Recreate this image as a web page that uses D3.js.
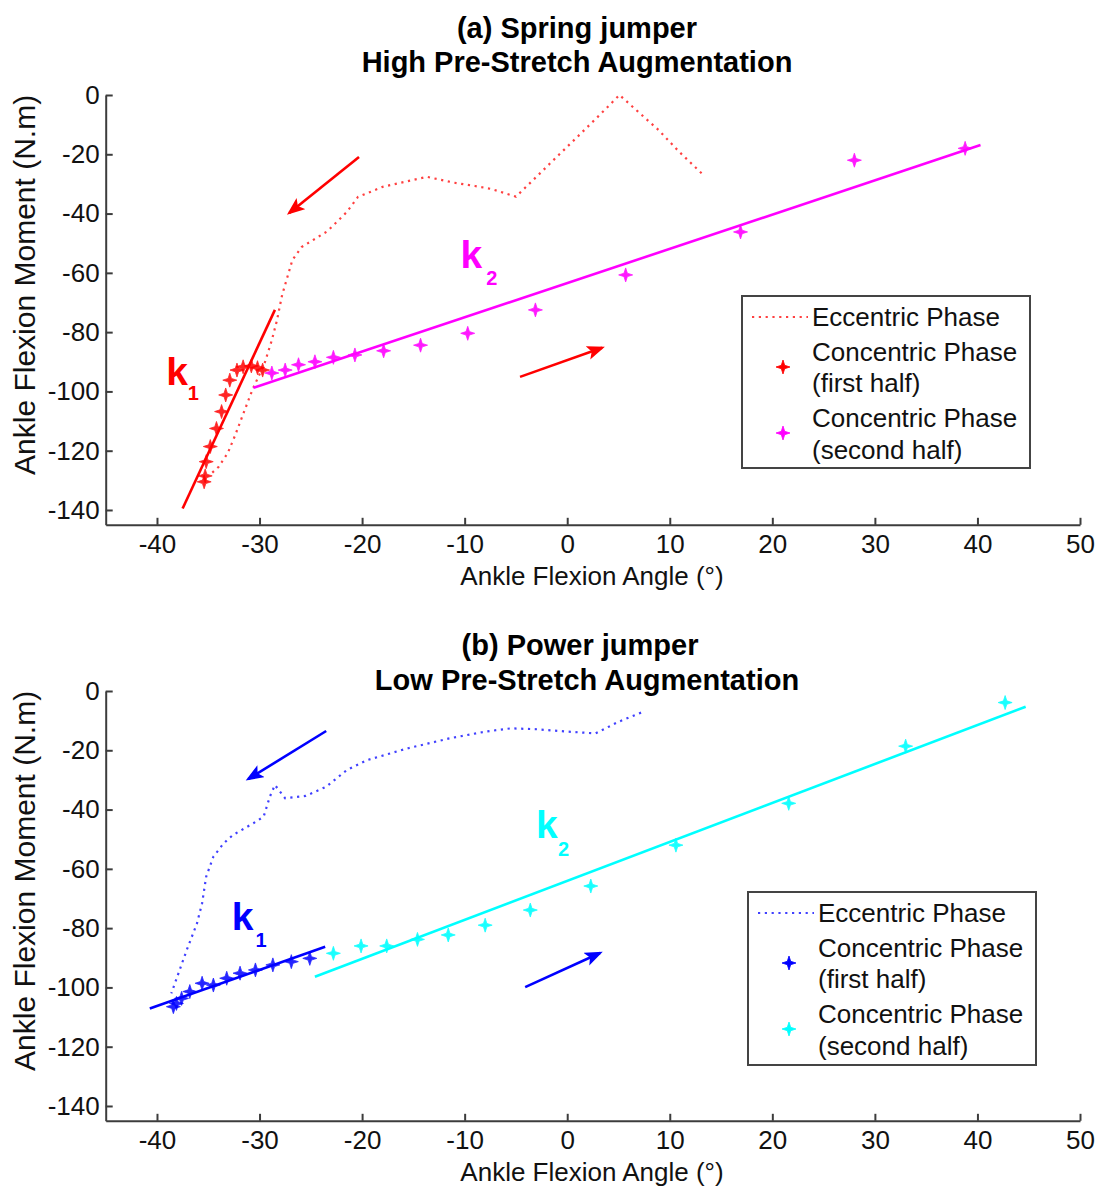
<!DOCTYPE html>
<html><head><meta charset="utf-8">
<script src="https://cdn.jsdelivr.net/npm/d3@7"></script>
<style>body{margin:0;background:#fff} svg{display:block}</style>
</head><body>
<svg id="c" width="1101" height="1188"></svg>
<script>
// ---------- data ----------
const xTicks = [-40,-30,-20,-10,0,10,20,30,40,50];
const yTicks = [0,-20,-40,-60,-80,-100,-120,-140];
const xDomain = [-45, 50];
const yDomain = [-145, 0];
const xLabel = "Ankle Flexion Angle (°)";
const yLabel = "Ankle Flexion Moment (N.m)";
const legendLabels = ["Eccentric Phase", "Concentric Phase", "(first half)", "Concentric Phase", "(second half)"];

// (a) Spring jumper
const aTitle = ["(a) Spring jumper", "High Pre-Stretch Augmentation"];
const aEccentric = [[13.1,-26.4],[10.9,-19.1],[8.9,-11.8],[6.9,-5.6],[5.1,0],[3.0,-7.3],[1.0,-14.1],[-1.0,-20.8],[-3.0,-27.6],[-5.0,-34.3],[-7.4,-31.7],[-9.0,-30.7],[-11.0,-29.6],[-13.7,-27.6],[-18.0,-31.0],[-20.4,-34.4],[-21.5,-39.5],[-23.4,-46.0],[-25.9,-51.3],[-26.8,-55.7],[-27.8,-67.5],[-28.3,-76.0],[-28.8,-82.7],[-29.5,-90.4],[-30.7,-99.5],[-31.7,-108.6],[-32.4,-115.0],[-33.1,-120.8],[-34.0,-125.5],[-34.8,-128.0]];
const aFirstHalf = [[-35.4,-130.5],[-35.3,-128.5],[-35.2,-123.7],[-34.8,-118.6],[-34.2,-112.5],[-33.7,-106.8],[-33.3,-101.2],[-32.9,-96.2],[-32.2,-92.8],[-31.6,-91.7],[-30.8,-91.4],[-30.2,-92.0],[-29.7,-92.8]];
const aSecondHalf = [[-28.8,-93.8],[-27.5,-92.8],[-26.2,-91.0],[-24.6,-90.0],[-22.8,-88.5],[-20.7,-87.7],[-17.9,-86.3],[-14.3,-84.4],[-9.7,-80.4],[-3.1,-72.5],[5.7,-60.7],[16.9,-46.2],[28.0,-22.0],[38.8,-18.0]];
const aFitK1 = [[-37.5,-139.5],[-28.5,-72.5]];
const aFitK2 = [[-30.6,-98.8],[40.3,-16.9]];
const aArrows = [[[-20.3,-20.9],[-27.1,-39.8]], [[-4.6,-95.1],[3.4,-85.3]]];
const aK1 = [-39.1,-97.8], aK1sub = [-37.0,-102.9];
const aK2 = [-10.4,-58.4], aK2sub = [-7.9,-64.1];

// (b) Power jumper
const bTitle = ["(b) Power jumper", "Low Pre-Stretch Augmentation"];
const bEccentric = [[7.2,-7.3],[5.0,-10.4],[2.75,-14.3],[0.0,-13.7],[-3.0,-12.9],[-5.5,-12.6],[-8.0,-13.7],[-11.5,-16.0],[-15.5,-19.3],[-19.5,-23.3],[-21.5,-26.7],[-23.5,-32.3],[-25.5,-35.4],[-27.5,-36.2],[-28.5,-31.7],[-29.0,-35.7],[-29.6,-42.4],[-30.6,-44.6],[-32.6,-48.6],[-33.5,-51.4],[-34.5,-55.9],[-35.2,-62.6],[-35.6,-71.6],[-36.1,-78.4],[-37.1,-87.4],[-37.9,-95.2],[-38.6,-102.0]];
const bFirstHalf = [[-38.4,-106.5],[-38.1,-105.4],[-37.6,-103.7],[-36.8,-101.4],[-35.6,-98.6],[-34.5,-99.2],[-33.2,-96.9],[-31.9,-95.2],[-30.4,-94.1],[-28.7,-92.4],[-26.9,-91.3],[-25.1,-90.2]];
const bSecondHalf = [[-22.8,-88.5],[-20.1,-86.0],[-17.6,-86.0],[-14.6,-83.8],[-11.6,-82.3],[-8.0,-79.0],[-3.6,-73.9],[2.3,-65.8],[10.6,-52.0],[21.6,-37.9],[33.0,-18.6],[42.7,-3.9]];
const bFitK1 = [[-40.7,-107.1],[-23.6,-86.3]];
const bFitK2 = [[-24.6,-96.4],[44.7,-5.3]];
const bArrows = [[[-23.5,-13.5],[-31.1,-29.7]], [[-4.1,-99.9],[3.2,-88.4]]];
const bK1 = [-32.7,-80.6], bK1sub = [-30.4,-86.4];
const bK2 = [-3.05,-49.6], bK2sub = [-0.9,-55.7];

// ---------- drawing ----------
const FONT = '"Liberation Sans", Arial, Helvetica, sans-serif';
const svg = d3.select('#c');
const defs = svg.append('defs');
function arrowDef(id, color) {
  defs.append('marker').attr('id', id).attr('markerUnits','userSpaceOnUse')
    .attr('markerWidth', 20).attr('markerHeight', 16).attr('refX', 15).attr('refY', 7)
    .attr('orient','auto')
    .append('path').attr('d','M0,0 L18,7 L0,14 L4,7 Z').attr('fill', color);
}
arrowDef('arRed', '#ff0000');
arrowDef('arBlue', '#0000ff');

const starPath = "M0,-7 L1.7,-1.7 L7,0 L1.7,1.7 L0,7 L-1.7,1.7 L-7,0 L-1.7,-1.7 Z";

function drawPanel(o) {
  const g = svg.append('g');
  const x = d3.scaleLinear().domain(xDomain).range([105.7, 1080]);
  const y = d3.scaleLinear().domain(yDomain).range([o.bottom, o.top]);

  // titles
  o.title.forEach((t, i) => {
    g.append('text').attr('x', o.titleX[i]).attr('y', o.titleY[i])
      .attr('text-anchor','middle').attr('font-family', FONT).attr('font-weight','bold')
      .attr('font-size', 29).attr('fill','#000').text(t);
  });

  // axes
  const xa = g.append('g').attr('transform', `translate(0,${o.bottom})`)
    .call(d3.axisBottom(x).tickValues(xTicks).tickFormat(d => String(d))
      .tickSizeInner(-7).tickSizeOuter(0).tickPadding(10));
  const ya = g.append('g').attr('transform', `translate(${x(xDomain[0])},0)`)
    .call(d3.axisLeft(y).tickValues(yTicks).tickFormat(d => String(d))
      .tickSizeInner(-7).tickSizeOuter(0).tickPadding(6));
  [xa, ya].forEach(a => {
    a.attr('font-family', FONT).attr('font-size', 26);
    a.selectAll('path, line').attr('stroke', '#3c3c3c').attr('stroke-width', 2);
    a.selectAll('text').attr('fill', '#111');
  });

  // axis labels
  g.append('text').attr('x', 592).attr('y', o.xLabelY).attr('text-anchor','middle')
    .attr('font-family', FONT).attr('font-size', 26).attr('fill','#111').text(xLabel);
  g.append('text').attr('transform', `translate(35,${(o.top + o.bottom) / 2 - 25}) rotate(-90)`)
    .attr('text-anchor','middle').attr('font-family', FONT).attr('font-size', 30)
    .attr('fill','#111').text(yLabel);

  const line = d3.line().x(d => x(d[0])).y(d => y(d[1]));

  // eccentric dotted
  g.append('path').datum(o.eccentric).attr('d', line).attr('fill','none')
    .attr('stroke', o.c1).attr('stroke-width', 2.2).attr('stroke-dasharray','2.2,4.6')
    .attr('stroke-opacity', 0.75);

  // fits
  g.append('path').datum(o.fitK1).attr('d', line).attr('fill','none')
    .attr('stroke', o.c1).attr('stroke-width', 2.6);
  g.append('path').datum(o.fitK2).attr('d', line).attr('fill','none')
    .attr('stroke', o.c2).attr('stroke-width', 2.6);

  // markers
  g.selectAll('.m1').data(o.first).join('path').attr('class','m1')
    .attr('transform', d => `translate(${x(d[0])},${y(d[1])})`).attr('d', starPath)
    .attr('fill', o.c1).attr('stroke', o.c1).attr('stroke-width', 0.8).attr('opacity', 0.85);
  g.selectAll('.m2').data(o.second).join('path').attr('class','m2')
    .attr('transform', d => `translate(${x(d[0])},${y(d[1])})`).attr('d', starPath)
    .attr('fill', o.c2).attr('stroke', o.c2).attr('stroke-width', 0.8).attr('opacity', 0.9);

  // arrows
  o.arrows.forEach(a => {
    g.append('line').attr('x1', x(a[0][0])).attr('y1', y(a[0][1]))
      .attr('x2', x(a[1][0])).attr('y2', y(a[1][1]))
      .attr('stroke', o.c1).attr('stroke-width', 2.6).attr('marker-end', `url(#${o.arrowId})`);
  });

  // k labels
  function kLabel(pos, sub, num, color) {
    g.append('text').attr('x', x(pos[0])).attr('y', y(pos[1])).attr('font-family', FONT)
      .attr('font-weight','bold').attr('font-size', 39).attr('fill', color).text('k');
    g.append('text').attr('x', x(sub[0])).attr('y', y(sub[1])).attr('font-family', FONT)
      .attr('font-weight','bold').attr('font-size', 20).attr('fill', color).text(num);
  }
  kLabel(o.k1, o.k1sub, '1', o.c1);
  kLabel(o.k2, o.k2sub, '2', o.c2);

  // legend
  const L = o.legend;
  const lg = g.append('g').attr('transform', `translate(${L[0]},${L[1]})`);
  lg.append('rect').attr('x', 0).attr('y', 0).attr('width', 288).attr('height', L[2])
    .attr('fill','#fff').attr('stroke','#444').attr('stroke-width', 2);
  lg.append('line').attr('x1', 10).attr('x2', 66).attr('y1', 21).attr('y2', 21)
    .attr('stroke', o.c1).attr('stroke-width', 2.2).attr('stroke-dasharray','2.2,4.6')
    .attr('stroke-opacity', 0.75);
  const rows = [30, 65, 96, 131, 163];
  legendLabels.forEach((t, i) => {
    lg.append('text').attr('x', 70).attr('y', rows[i]).attr('font-family', FONT)
      .attr('font-size', 26).attr('fill','#111').text(t);
  });
  lg.append('path').attr('d', starPath).attr('transform','translate(41,71)')
    .attr('fill', o.c1).attr('stroke', o.c1).attr('stroke-width', 0.8);
  lg.append('path').attr('d', starPath).attr('transform','translate(41,137)')
    .attr('fill', o.c2).attr('stroke', o.c2).attr('stroke-width', 0.8);
}

drawPanel({
  top: 95, bottom: 524.8, title: aTitle, titleX: [577, 577], titleY: [38, 72], xLabelY: 585,
  eccentric: aEccentric, first: aFirstHalf, second: aSecondHalf, fitK1: aFitK1, fitK2: aFitK2,
  arrows: aArrows, k1: aK1, k1sub: aK1sub, k2: aK2, k2sub: aK2sub,
  c1: '#ff0000', c2: '#ff00ff', arrowId: 'arRed', legend: [742, 296, 172]
});
drawPanel({
  top: 691, bottom: 1120.8, title: bTitle, titleX: [580, 587], titleY: [655, 690], xLabelY: 1181,
  eccentric: bEccentric, first: bFirstHalf, second: bSecondHalf, fitK1: bFitK1, fitK2: bFitK2,
  arrows: bArrows, k1: bK1, k1sub: bK1sub, k2: bK2, k2sub: bK2sub,
  c1: '#0000ff', c2: '#00ffff', arrowId: 'arBlue', legend: [748, 892, 173]
});
</script>
</body></html>
